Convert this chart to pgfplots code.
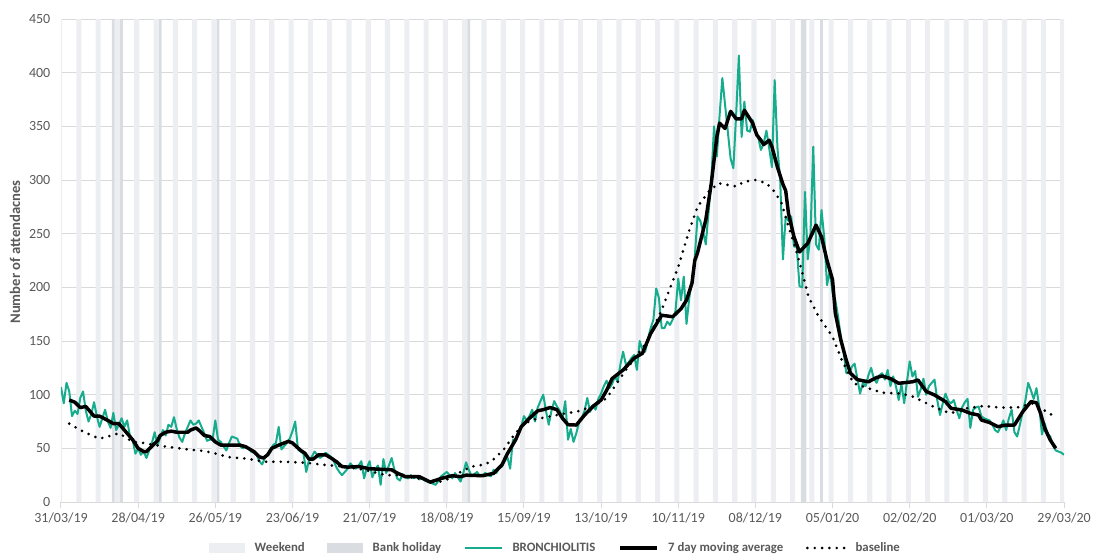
\documentclass[border=0pt]{standalone}
\usepackage{fontspec}
\setmainfont{Carlito}
\usepackage{pgfplots}
\pgfplotsset{compat=1.18}
\definecolor{wkend}{HTML}{ECEEF1}
\definecolor{bankh}{HTML}{D9DCE0}
\definecolor{bron}{HTML}{17AC8D}
\definecolor{txt}{HTML}{595959}
\definecolor{grd}{HTML}{D9D9D9}
\begin{document}
\begin{tikzpicture}
\useasboundingbox (-45.75pt,-39pt) rectangle (775.5pt,376.5pt);
\begin{axis}[
  at={(0,0)}, anchor=south west, scale only axis,
  width=752.25pt, height=362.25pt,
  xmin=0, xmax=364, ymin=0, ymax=450,
  xtick={0,28,...,364},
  xticklabels={31/03/19,28/04/19,26/05/19,23/06/19,21/07/19,18/08/19,15/09/19,13/10/19,10/11/19,08/12/19,05/01/20,02/02/20,01/03/20,29/03/20},
  ytick={0,50,...,450},
  ymajorgrids, grid style={draw=grd, line width=0.75pt},
  axis x line*=bottom, axis y line*=left, axis line style={-},
  x axis line style={draw=grd, line width=0.75pt},
  y axis line style={draw=none},
  tick align=outside, major tick length=4.5pt,
  xtick style={draw=grd, line width=0.75pt},
  ytick style={draw=none},
  tick label style={font=\fontsize{10.5}{12}\selectfont, text=txt},
  /pgf/number format/assume math mode=true,
  ylabel={Number of attendacnes},
  every axis y label/.style={at={(axis description cs:-0.0459,0.5176)}, rotate=90, anchor=center, font=\bfseries\fontsize{11}{13}\selectfont, text=txt},
  legend style={at={(0.4935,-0.0952)}, anchor=center, legend columns=-1, draw=none, fill=none,
    font=\bfseries\fontsize{9.6}{11}\selectfont, text=txt, inner sep=0pt,
    /tikz/every odd column/.append style={column sep=5pt},
    /tikz/every even column/.append style={column sep=15pt}},
  legend cell align=left,
  legend image code/.code={\draw[#1] (0pt,0pt) -- (28pt,0pt);},
]
% weekends
\addplot[ybar, bar shift=0pt, bar width=1.85, fill=wkend, draw=none,
  legend image code/.code={\fill[wkend] (0pt,-3.5pt) rectangle (27pt,3.5pt);}]
coordinates {(-0.5,450) (6.5,450) (13.5,450) (20.5,450) (27.5,450) (34.5,450) (41.5,450) (48.5,450) (55.5,450) (62.5,450) (69.5,450) (76.5,450) (83.5,450) (90.5,450) (97.5,450) (104.5,450) (111.5,450) (118.5,450) (125.5,450) (132.5,450) (139.5,450) (146.5,450) (153.5,450) (160.5,450) (167.5,450) (174.5,450) (181.5,450) (188.5,450) (195.5,450) (202.5,450) (209.5,450) (216.5,450) (223.5,450) (230.5,450) (237.5,450) (244.5,450) (251.5,450) (258.5,450) (265.5,450) (272.5,450) (279.5,450) (286.5,450) (293.5,450) (300.5,450) (307.5,450) (314.5,450) (321.5,450) (328.5,450) (335.5,450) (342.5,450) (349.5,450) (356.5,450) (363.5,450)};
\addlegendentry{Weekend}
% bank holidays
\addplot[ybar, bar shift=0pt, bar width=1, fill=bankh, draw=none,
  legend image code/.code={\fill[bankh] (0pt,-3.5pt) rectangle (27pt,3.5pt);}]
coordinates {(19,450) (22,450) (36,450) (57,450) (148,450) (269,450) (270,450) (276,450)};
\addlegendentry{Bank holiday}
% daily attendances
\addplot[bron, line width=1.5pt, line join=round] table {
0 107
1 92
2 111
3 103
4 80
5 85
6 82
7 97
8 103
9 85
10 75
11 82
12 93
13 80
14 70
15 78
16 86
17 75
18 69
19 83
20 67
21 72
22 78
23 70
24 76
25 62
26 58
27 45
28 50
29 44
30 47
31 41
32 48
33 55
34 65
35 53
36 60
37 67
38 62
39 72
40 70
41 79
42 68
43 60
44 56
45 64
46 70
47 76
48 72
49 73
50 76
51 70
52 64
53 57
54 58
55 58
56 76
57 58
58 56
59 52
60 48
61 55
62 61
63 60
64 59
65 52
66 50
67 52
68 50
69 47
70 46
71 44
72 38
73 35
74 41
75 45
76 49
77 53
78 55
79 70
80 49
81 52
82 55
83 59
84 66
85 75
86 49
87 47
88 45
89 28
90 39
91 42
92 47
93 44
94 41
95 43
96 46
97 44
98 42
99 38
100 32
101 28
102 25
103 28
104 31
105 36
106 33
107 31
108 34
109 38
110 22
111 32
112 38
113 23
114 30
115 34
116 16
117 40
118 27
119 34
120 41
121 30
122 22
123 20
124 26
125 23
126 22
127 25
128 22
129 24
130 21
131 22
132 20
133 19
134 18
135 17
136 16
137 20
138 24
139 26
140 28
141 25
142 22
143 27
144 23
145 19
146 27
147 37
148 30
149 24
150 26
151 28
152 24
153 25
154 27
155 25
156 24
157 30
158 27
159 32
160 33
161 38
162 42
163 31
164 58
165 58
166 64
167 70
168 80
169 76
170 80
171 86
172 75
173 88
174 94
175 100
176 85
177 72
178 85
179 94
180 89
181 85
182 78
183 94
184 58
185 68
186 56
187 64
188 74
189 78
190 85
191 97
192 84
193 90
194 86
195 96
196 101
197 108
198 113
199 106
200 110
201 117
202 112
203 128
204 140
205 128
206 130
207 134
208 137
209 123
210 150
211 142
212 140
213 152
214 162
215 170
216 199
217 190
218 162
219 162
220 168
221 165
222 170
223 178
224 208
225 188
226 210
227 166
228 190
229 207
230 228
231 266
232 262
233 252
234 240
235 270
236 300
237 350
238 322
239 360
240 395
241 370
242 345
243 320
244 311
245 360
246 416
247 340
248 373
249 346
250 345
251 356
252 346
253 340
254 328
255 334
256 346
257 330
258 312
259 393
260 330
261 300
262 226
263 266
264 262
265 266
266 238
267 238
268 201
269 200
270 289
271 226
272 250
273 331
274 240
275 235
276 272
277 246
278 202
279 216
280 195
281 188
282 173
283 154
284 140
285 120
286 120
287 126
288 129
289 115
290 101
291 111
292 108
293 118
294 125
295 115
296 111
297 118
298 120
299 114
300 123
301 108
302 117
303 108
304 95
305 110
306 92
307 112
308 131
309 117
310 122
311 98
312 105
313 115
314 100
315 108
316 111
317 114
318 95
319 81
320 92
321 101
322 94
323 92
324 95
325 86
326 78
327 88
328 93
329 96
330 69
331 86
332 88
333 89
334 80
335 78
336 77
337 76
338 72
339 67
340 65
341 70
342 76
343 67
344 78
345 86
346 65
347 61
348 72
349 84
350 95
351 111
352 104
353 96
354 106
355 89
356 63
357 73
358 64
359 61
360 53
361 48
362 47
363 46
364 44
};
\addlegendentry{BRONCHIOLITIS}
% 7 day moving average
\addplot[black, line width=2.6pt, line join=round] coordinates {
(3,95) (5,93) (7,88) (9,89) (12,80) (14,80) (17,76) (19,73) (21,73) (22,70) (24,64) (26,58) (28,50) (30,47) (31,47) (33,52) (35,57) (36,62) (38,65) (40,66) (42,65) (46,65) (47,67) (49,69) (50,67) (52,62) (54,61) (56,56) (58,53) (61,53) (65,53) (67,51.5) (70,47) (72,42) (73.5,41) (75,44) (76.5,50) (79,53) (81,55) (82.5,56.5) (84,55) (87,48) (88.5,45.5) (90,40) (91.5,40) (93.5,44) (96,44) (98,41) (100,37.5) (102,33) (104,32.5) (108,33) (112,31) (116,30.5) (120,30) (122,27) (125,23.6) (130,23.6) (134,18.5) (138,22) (142,24.5) (145,23.6) (147,25) (153,24.5) (157,26.7) (160,34.5) (162,45) (165,58) (167,70) (170,78) (173,85) (175,86) (177.5,88) (180,86) (182,78) (184,72) (187,71.7) (190,81) (193,89) (196,95) (198,104) (200,115) (204,123) (208,134) (211,138.5) (214,157) (218,174) (222,172.6) (225,180) (227,188) (229,204) (230,225) (231,232) (234,263) (236,297) (238,340) (239,353) (241,348) (243,364) (245,357) (247,357) (248,365) (251,353) (252.5,342) (254,337) (255,333) (257,337) (258,331) (260,312) (262,296) (263,290) (264,269) (266,247) (268,233) (271,241) (274,258) (276,247) (278,225) (280,207) (281,176) (283,151) (285,132) (286.5,120) (289,114) (293,112) (296,116) (298,117.4) (301,115) (304,110.6) (309,112) (311,113.7) (314,103) (317,99.7) (321,93.5) (323,87.3) (327,85.7) (330,82.6) (333,81) (334,76.4) (337,74) (340,70.2) (343,71.7) (346,71.7) (349,84) (352,93.5) (354,92.5) (355.5,82.6) (357,68.7) (359,57.8) (361,50)
};
\addlegendentry{7 day moving average}
% baseline
\addplot[black, line width=2.2pt, line cap=round, dash pattern=on 0pt off 5.5pt] coordinates {
(3,73) (7,67) (12,61) (14,59) (17,61) (21,64) (23,61) (26,56) (30,55) (34,53) (40,51) (46,49) (52,47.5) (58,44) (60,42) (67,40.5) (74,37.5) (81,37.5) (89,36.5) (96,34.5) (103,33) (110,30) (118,25) (122,25) (126,23.5) (132,21) (138,19) (142,23) (145,28) (149,33) (154,35) (157.5,40.7) (161,50) (164,61) (168,73) (172,77) (177,79.5) (183,82.6) (187,84) (193,89) (198,96.6) (205,123) (212.6,149) (218,179) (224,219) (228,253) (231,275) (235,289) (238.6,297) (242,295.4) (245,294) (248,298.5) (252,300) (256,297) (259,289) (261.6,278) (264,256.5) (266.4,238) (268.8,216) (271.3,191) (275,172.6) (280,154) (283.4,132) (287.6,110.6) (293,106) (298,101.8) (305,101) (309.4,98) (316.6,88.8) (322.7,82.6) (328.7,87.3) (334.7,89.5) (340.8,88) (346.9,88) (353,92) (356.6,85.7) (360.4,80)
};
\addlegendentry{baseline}
\end{axis}
\end{tikzpicture}
\end{document}
